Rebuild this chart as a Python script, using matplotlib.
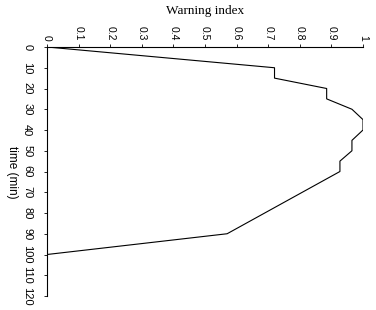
import matplotlib
matplotlib.use("Agg")
import matplotlib.pyplot as plt

# data (time in minutes, warning index)
time_min = [0, 10, 15, 20, 25, 30, 35, 40, 45, 50, 55, 60, 90, 100]
warning_index = [0, 0.72, 0.72, 0.885, 0.885, 0.965, 1.0, 1.0, 0.965, 0.965, 0.927, 0.927, 0.57, 0]
index_ticks = [0, 0.1, 0.2, 0.3, 0.4, 0.5, 0.6, 0.7, 0.8, 0.9, 1.0]
index_labels = ["0", "0.1", "0.2", "0.3", "0.4", "0.5", "0.6", "0.7", "0.8", "0.9", "1"]
time_ticks = [0, 10, 20, 30, 40, 50, 60, 70, 80, 90, 100, 110, 120]
time_labels = [str(t) for t in time_ticks]

W, H = 376, 310
fig = plt.figure(figsize=(W / 100, H / 100), dpi=100)
ax = fig.add_axes([47 / W, (H - 296) / H, (363 - 47) / W, (296 - 47) / H])

ax.plot(warning_index, time_min, color="black", lw=0.8)
ax.set_xlim(0, 1)
ax.set_ylim(120, 0)

for s in ["right", "bottom"]:
    ax.spines[s].set_visible(False)
for s in ["top", "left"]:
    ax.spines[s].set_linewidth(0.8)

ax.xaxis.tick_top()
ax.set_xticks(index_ticks)
ax.set_xticklabels(index_labels, rotation=-90, fontsize=7.5, family="Liberation Sans",
                   va="bottom", ha="center")
ax.tick_params(axis="x", direction="out", length=2.2, width=0.6, pad=2.5)

ax.set_yticks(time_ticks)
ax.set_yticklabels(time_labels, rotation=-90, fontsize=8, family="Liberation Sans",
                   va="center", ha="right")
ax.tick_params(axis="y", direction="out", length=2.2, width=0.6, pad=8.5)

fig.text(205 / W, 1 - 11 / H, "Warning index", ha="center", va="center",
         fontsize=9.5, family="Liberation Serif")
fig.text(12 / W, 1 - 172 / H, "time (min)", ha="center", va="center",
         rotation=-90, fontsize=8.5, family="Liberation Sans")

fig.savefig("out.png", dpi=100)
